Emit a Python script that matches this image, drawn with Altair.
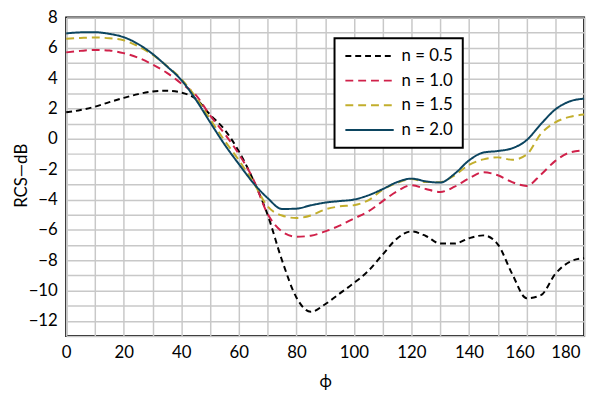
import altair as alt
import pandas as pd

phi = list(range(0, 181, 5))

n05 = [1.75, 1.9, 2.12, 2.42, 2.7, 2.95, 3.12, 3.17, 3.05, 2.65, 1.6, 0.62, -0.82, -2.7,
       -5.0, -8.0, -10.45, -11.4, -10.9, -10.2, -9.5, -8.7, -7.62, -6.56, -6.1, -6.4,
       -6.9, -6.9, -6.55, -6.36, -6.95, -8.9, -10.5, -10.3, -8.9, -8.1, -7.85]
n10 = [5.7, 5.8, 5.86, 5.82, 5.65, 5.35, 4.9, 4.35, 3.65, 2.9, 1.55, 0.35, -1.0, -2.65,
       -4.95, -6.1, -6.45, -6.38, -6.1, -5.72, -5.25, -4.78, -4.1, -3.45, -3.05, -3.3,
       -3.5, -3.15, -2.6, -2.2, -2.4, -2.85, -3.1, -2.35, -1.45, -0.9, -0.75]
n15 = [6.6, 6.65, 6.68, 6.63, 6.5, 6.1, 5.55, 4.8, 3.95, 2.75, 1.3, -0.1, -1.4, -2.85,
       -4.45, -5.05, -5.22, -5.05, -4.65, -4.45, -4.37, -4.05, -3.35, -2.9, -2.65, -2.85,
       -2.85, -2.4, -1.72, -1.35, -1.22, -1.38, -1.04, 0.34, 1.09, 1.45, 1.6]
n20 = [6.95, 7.02, 7.03, 6.92, 6.7, 6.25, 5.6, 4.78, 3.88, 2.6, 1.1, -0.36, -1.66, -2.9,
       -3.9, -4.62, -4.6, -4.38, -4.2, -4.1, -4.0, -3.72, -3.31, -2.85, -2.62, -2.8,
       -2.88, -2.3, -1.42, -0.9, -0.8, -0.62, -0.09, 0.98, 1.94, 2.47, 2.65]

series_names = ["n = 0.5", "n = 1.0", "n = 1.5", "n = 2.0"]
series_vals = [n05, n10, n15, n20]
colors = ["#000000", "#d0214a", "#c2ae2c", "#0c4560"]
dashes = [[6, 4], [8, 5], [8, 5], [1, 0]]

rows = []
for name, vals in zip(series_names, series_vals):
    for x, y in zip(phi, vals):
        rows.append({"phi": x, "rcs": y, "series": name})
df = pd.DataFrame(rows)

FONT = "Lato"

legend_cfg = dict(title=None, orient="none", legendX=272, legendY=21,
                  symbolType="stroke", symbolSize=2401, clipHeight=16,
                  symbolStrokeWidth=2, labelFontSize=17,
                  labelFont=FONT, labelOffset=7, rowPadding=8,
                  padding=10, strokeColor="black", fillColor="white",
                  labelColor="black")

chart = alt.Chart(df).mark_line(strokeWidth=2, interpolate="monotone").encode(
    x=alt.X("phi:Q",
            scale=alt.Scale(domain=[0, 180], nice=False),
            axis=alt.Axis(title="ϕ", values=list(range(0, 181, 10)),
                          labelExpr="datum.value % 20 == 0 ? datum.label : ''",
                          labelFlush=False, labelOverlap=False,
                          labelOffset={"condition": [
                              {"test": "datum.value == 180", "value": -19},
                              {"test": "datum.value == 160", "value": -7}],
                              "value": 0},
                          titleY=46, titleBaseline="middle")),
    y=alt.Y("rcs:Q",
            scale=alt.Scale(domain=[-13, 8], nice=False),
            axis=alt.Axis(title="RCS—dB", values=list(range(-13, 9)),
                          labelExpr="datum.value % 2 == 0 ? datum.label : ''",
                          labelOverlap=False,
                          titleX=-45, titleY=160, titleBaseline="middle")),
    color=alt.Color("series:N",
                    scale=alt.Scale(domain=series_names, range=colors),
                    legend=alt.Legend(**legend_cfg)),
    strokeDash=alt.StrokeDash("series:N",
                              scale=alt.Scale(domain=series_names, range=dashes),
                              legend=alt.Legend(**legend_cfg)),
).properties(
    width=525, height=323,
    autosize=alt.AutoSizeParams(type="none"),
    padding={"left": 59, "top": 7, "right": 8, "bottom": 52},
).configure_view(
    stroke="black", strokeWidth=2
).configure_axis(
    domain=False, ticks=False,
    grid=True, gridColor="#c8c8c8", gridWidth=1.5,
    labelFont=FONT, labelFontSize=17, labelColor="black", labelPadding=9,
    titleFont=FONT, titleFontSize=17, titleFontWeight="normal", titleColor="black",
).configure_legend(
    strokeWidth=2
)

chart.save("out.html", embed_options={"renderer": "svg", "actions": False})
